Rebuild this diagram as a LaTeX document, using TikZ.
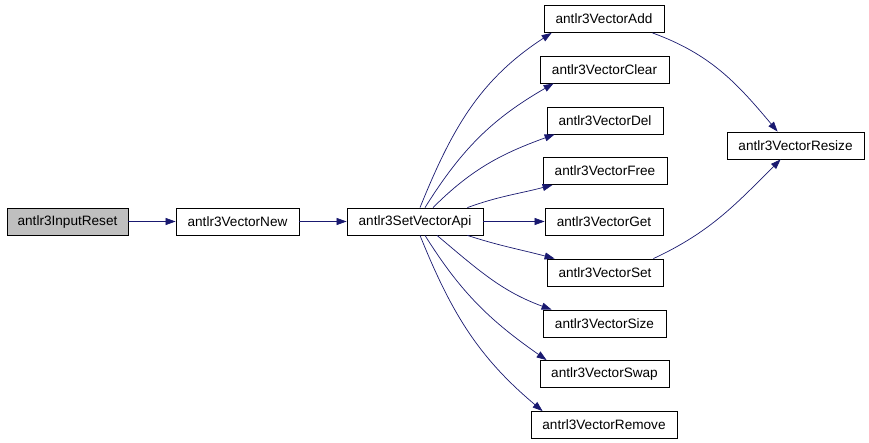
\documentclass[tikz,border=0pt]{standalone}
\usepackage{fontspec}
\setmainfont{Liberation Sans}
\usepackage{xcolor}
\usepackage{tikz}
\usetikzlibrary{arrows.meta,positioning}

\definecolor{callblue}{HTML}{191970}
\definecolor{rootgray}{HTML}{BFBFBF}

\begin{document}
\begin{tikzpicture}[x=1pt, y=1pt,
    fn/.style={draw, line width=0.8pt, minimum height=27pt, inner sep=0pt, font=\fontsize{13.6}{16}\selectfont},
    call/.style={draw=callblue, line width=0.7pt, -{Triangle[length=10pt,width=7pt,fill=callblue]}}]
    \useasboundingbox (0,0) rectangle (869,-443);

    % Caller chain
    \node[fn, fill=rootgray, minimum width=121pt] (reset) at (67.5,-221.5) {antlr3InputReset};
    \node[fn, minimum width=123pt] (new) at (237.5,-221.5) {antlr3VectorNew};
    \node[fn, minimum width=136pt] (api) at (415,-221.5) {antlr3SetVectorApi};

    % Vector functions
    \node[fn, minimum width=120pt] (add) at (604,-19) {antlr3VectorAdd};
    \node[fn, minimum width=129pt] (clear) at (604.5,-69.5) {antlr3VectorClear};
    \node[fn, minimum width=116pt] (del) at (605,-120.5) {antlr3VectorDel};
    \node[fn, minimum width=124pt] (free) at (605,-171) {antlr3VectorFree};
    \node[fn, minimum width=118pt] (get) at (604,-221.5) {antlr3VectorGet};
    \node[fn, minimum width=116pt] (set) at (605,-272.5) {antlr3VectorSet};
    \node[fn, minimum width=123pt] (size) at (604.5,-323.5) {antlr3VectorSize};
    \node[fn, minimum width=129pt] (swap) at (604.5,-374) {antlr3VectorSwap};
    \node[fn, minimum width=146pt] (remove) at (604,-425) {antrl3VectorRemove};
    \node[fn, minimum width=137pt] (resize) at (795.5,-145.5) {antlr3VectorResize};

    % Calls
    \draw[call] (reset) -- (new);
    \draw[call] (new) -- (api);
    \draw[call] (api) -- (get);
    \draw[call] ([xshift=5pt]api.north) to[out=68,in=213] ([xshift=8pt]add.south west);
    \draw[call] ([xshift=10pt]api.north) to[out=58,in=210] ([xshift=14pt]clear.south west);
    \draw[call] ([xshift=18pt]api.north) to[out=45,in=200] ([xshift=8pt]del.south west);
    \draw[call] ([xshift=-16pt]api.north east) to[out=20,in=195] ([xshift=10pt]free.south west);
    \draw[call] ([xshift=-16pt]api.south east) to[out=-18,in=165] ([xshift=8pt]set.north west);
    \draw[call] ([xshift=22pt]api.south) to[out=-40,in=160] ([xshift=9pt]size.north west);
    \draw[call] ([xshift=10pt]api.south) to[out=-58,in=145] ([xshift=7pt]swap.north west);
    \draw[call] ([xshift=5pt]api.south) to[out=-68,in=140] ([xshift=12pt]remove.north west);
    \draw[call] ([xshift=-12pt]add.south east) to[out=-20,in=130] ([xshift=51pt]resize.north west);
    \draw[call] ([xshift=-10pt]set.north east) to[out=25,in=225] ([xshift=54pt]resize.south west);
\end{tikzpicture}
\end{document}
